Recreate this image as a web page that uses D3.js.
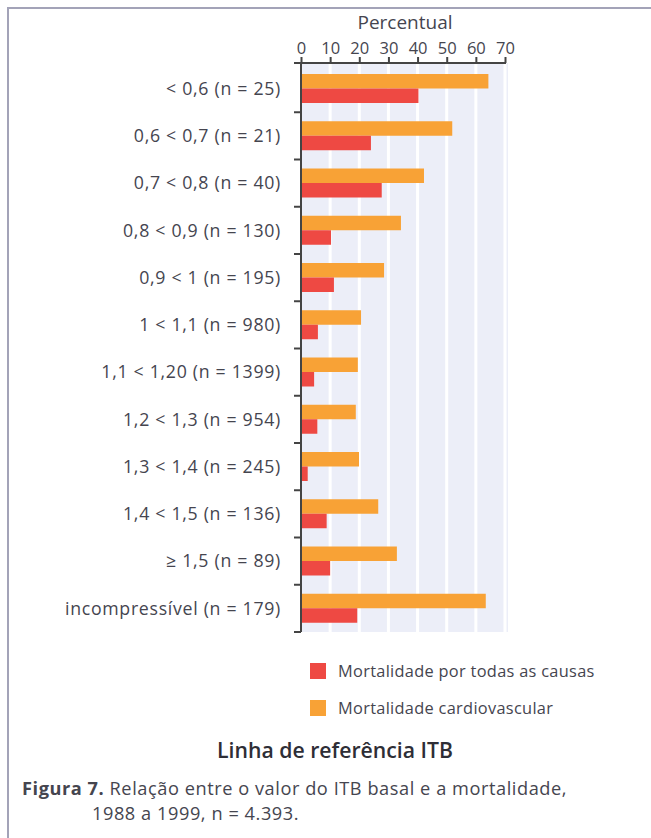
<!DOCTYPE html>
<html>
<head>
<meta charset="utf-8">
<script src="https://cdn.jsdelivr.net/npm/d3@7"></script>
<style>
  html, body { margin: 0; padding: 0; background: #ffffff; }
  svg { display: block; }
</style>
</head>
<body>
<svg id="chart" width="651" height="838"></svg>
<script>
// ---- data ----
const categories = [
  "< 0,6 (n = 25)",
  "0,6 < 0,7 (n = 21)",
  "0,7 < 0,8 (n = 40)",
  "0,8 < 0,9 (n = 130)",
  "0,9 < 1 (n = 195)",
  "1 < 1,1 (n = 980)",
  "1,1 < 1,20 (n = 1399)",
  "1,2 < 1,3 (n = 954)",
  "1,3 < 1,4 (n = 245)",
  "1,4 < 1,5 (n = 136)",
  "\u2265 1,5 (n = 89)",
  "incompress\u00edvel (n = 179)"
];
const cardiovascular = [64.3, 51.9, 42.2, 34.3, 28.5, 20.6, 19.5, 18.8, 19.9, 26.5, 32.9, 63.4];
const allCauses      = [40.3, 24.0, 27.7, 10.3, 11.3, 5.8, 4.5, 5.6, 2.3, 8.8, 10.0, 19.3];
const xTicks = [0, 10, 20, 30, 40, 50, 60, 70];
const seriesNames = ["Mortalidade cardiovascular", "Mortalidade por todas as causas"];
const legendOrder = ["Mortalidade por todas as causas", "Mortalidade cardiovascular"];
const axisTitle = "Percentual";
const chartTitle = "Linha de refer\u00eancia ITB";
const captionBold = "Figura 7.";
const captionLine1 = " Rela\u00e7\u00e3o entre o valor do ITB basal e a mortalidade,";
const captionLine2 = "1988 a 1999, n = 4.393.";

// ---- styles ----
const colors = { "Mortalidade cardiovascular": "#f8a236", "Mortalidade por todas as causas": "#ee4943" };
const textColor = "#45454f";
const font = "'Open Sans', 'Noto Sans', sans-serif";

const svg = d3.select("#chart");

// scale a text's font size so that it spans a target width
function fitWidth(sel, target) {
  const node = sel.node();
  const fs = parseFloat(sel.attr("font-size"));
  const w = node.getComputedTextLength();
  if (w > 0) sel.attr("font-size", (fs * target / w).toFixed(2));
}
// adjust letter spacing so that a text spans a target width
function fitSpacing(sel, target, nChars) {
  sel.attr("letter-spacing", 0);
  const w = sel.node().getComputedTextLength();
  const ls = (target - w) / nChars;
  sel.attr("letter-spacing", ls.toFixed(3));
  return ls;
}

// frame
svg.append("path")
  .attr("d", "M8,838 L8,8 L651,8")
  .attr("fill", "none").attr("stroke", "#a3a3b8").attr("stroke-width", 2);

// scales
const x = d3.scaleLinear().domain([0, 70]).range([301, 505]);
const y = d3.scaleBand().domain(categories).range([65, 632]).paddingInner(0).paddingOuter(0);
const yInner = d3.scaleBand().domain(seriesNames).range([9, 38]).padding(0);

// plot background
svg.append("rect")
  .attr("x", x(0)).attr("y", 63)
  .attr("width", x(70) + 3 - x(0)).attr("height", 632 - 63)
  .attr("fill", "#eceef8");
// white gridlines
svg.append("g").selectAll("line")
  .data(xTicks.slice(1))
  .join("line")
  .attr("x1", d => x(d)).attr("x2", d => x(d))
  .attr("y1", 63).attr("y2", 632)
  .attr("stroke", "#ffffff").attr("stroke-width", 3);

// bars
const rows = categories.map((c, i) => ({ cat: c, values: [
  { key: "Mortalidade cardiovascular", v: cardiovascular[i] },
  { key: "Mortalidade por todas as causas", v: allCauses[i] }
]}));
const g = svg.append("g");
rows.forEach(r => {
  g.selectAll(null).data(r.values).join("rect")
    .attr("x", x(0))
    .attr("y", d => y(r.cat) + yInner(d.key))
    .attr("width", d => x(d.v) - x(0))
    .attr("height", yInner.bandwidth())
    .attr("fill", d => colors[d.key]);
});

// top axis
const xAxis = d3.axisTop(x).tickValues(xTicks).tickSize(6).tickPadding(3).tickSizeOuter(0);
const gx = svg.append("g").attr("transform", "translate(0,63)").call(xAxis);
gx.select(".domain").attr("stroke", "#444").attr("stroke-width", 2).attr("d", `M${x(0) - 7},0H${x(70) + 1}`);
gx.selectAll(".tick line").attr("stroke", "#444").attr("stroke-width", 2);
gx.selectAll(".tick text").attr("fill", textColor).attr("font-family", font).attr("font-size", 16.5);

const at = svg.append("text")
  .attr("x", x(35) + 2).attr("y", 29)
  .attr("text-anchor", "middle")
  .attr("fill", textColor).attr("font-family", font).attr("font-size", 18)
  .text(axisTitle);
fitWidth(at, 95);

// left axis
svg.append("line")
  .attr("x1", x(0)).attr("x2", x(0)).attr("y1", 63).attr("y2", 632)
  .attr("stroke", "#444").attr("stroke-width", 2);
const boundaries = categories.map(c => y(c) + y.bandwidth());
svg.append("g").selectAll("line").data(boundaries).join("line")
  .attr("x1", x(0) - 7).attr("x2", x(0))
  .attr("y1", d => d).attr("y2", d => d)
  .attr("stroke", "#444").attr("stroke-width", 2);

// category labels
const labels = svg.append("g").selectAll("text").data(categories).join("text")
  .attr("x", 281)
  .attr("y", d => y(d) + y.bandwidth() / 2)
  .attr("dy", "0.35em")
  .attr("text-anchor", "end")
  .attr("fill", textColor).attr("font-family", font).attr("font-size", 16)
  .attr("letter-spacing", 0.7)
  .text(d => d);
// match label size to the reference width of the longest label
{
  const last = labels.filter((d, i) => i === categories.length - 1);
  const w = last.node().getComputedTextLength();
  const fs = 16 * 218 / w;
  labels.attr("font-size", fs.toFixed(2));
}

// legend
const lg = svg.append("g");
legendOrder.forEach((name, i) => {
  const yy = 663 + i * 37;
  lg.append("rect").attr("x", 310).attr("y", yy).attr("width", 16).attr("height", 16).attr("fill", colors[name]);
  const t = lg.append("text").attr("x", 338).attr("y", yy + 8).attr("dy", "0.35em")
    .attr("fill", textColor).attr("font-family", font).attr("font-size", 16)
    .attr("letter-spacing", 0.3)
    .text(name);
  if (i === 0) fitWidth(t, 257);
  else t.attr("font-size", lg.select("text").attr("font-size"));
});

// title
const tt = svg.append("text")
  .attr("x", 335).attr("y", 758)
  .attr("text-anchor", "middle")
  .attr("fill", "#2e2e36").attr("font-family", font).attr("font-size", 20).attr("font-weight", 600)
  .text(chartTitle);
fitWidth(tt, 236);

// caption
const capFs = 18.2;
const cap = svg.append("text")
  .attr("x", 22).attr("y", 795)
  .attr("fill", textColor).attr("font-family", font).attr("font-size", capFs);
cap.append("tspan").attr("font-weight", 700).text(captionBold);
cap.append("tspan").text(captionLine1);
const capLs = fitSpacing(cap, 545, (captionBold + captionLine1).length);
svg.append("text")
  .attr("x", 92).attr("y", 820)
  .attr("fill", textColor).attr("font-family", font).attr("font-size", capFs)
  .attr("letter-spacing", capLs.toFixed(3))
  .text(captionLine2);
</script>
</body>
</html>
